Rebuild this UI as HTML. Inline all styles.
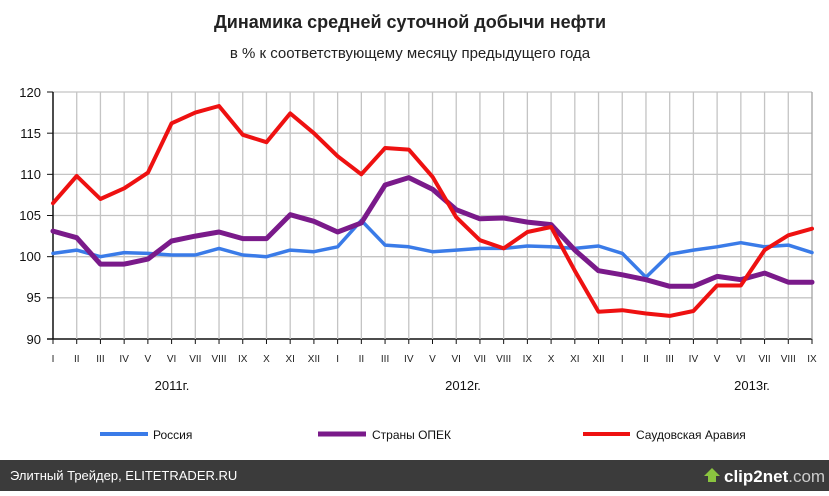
<!DOCTYPE html>
<html><head><meta charset="utf-8"><style>
body{margin:0;width:829px;height:491px;overflow:hidden;background:#fff;font-family:"Liberation Sans",sans-serif}
</style></head><body>
<svg id="s" width="829" height="491" xmlns="http://www.w3.org/2000/svg" font-family="Liberation Sans, sans-serif">
<text x="410" y="28" text-anchor="middle" font-size="18" font-weight="bold" fill="#222">Динамика средней суточной добычи нефти</text>
<text x="410" y="58" text-anchor="middle" font-size="15" fill="#222">в % к соответствующему месяцу предыдущего года</text>
<g id="grid"></g>
<g font-size="13" fill="#111" text-anchor="end">
<text x="41" y="97">120</text><text x="41" y="138">115</text><text x="41" y="179">110</text><text x="41" y="220">105</text><text x="41" y="261">100</text><text x="41" y="302">95</text><text x="41" y="344">90</text>
</g>
<g id="xl" font-size="10" fill="#222" text-anchor="middle"></g>
<g font-size="13" fill="#111" text-anchor="middle">
<text x="172" y="390">2011г.</text><text x="463" y="390">2012г.</text><text x="752" y="390">2013г.</text>
</g>
<g id="lines" fill="none" stroke-linejoin="round" stroke-linecap="round"></g>
<line x1="100" y1="434" x2="148" y2="434" stroke="#3a7be8" stroke-width="4"/>
<text x="153" y="439" font-size="12" fill="#111">Россия</text>
<line x1="318" y1="434" x2="366" y2="434" stroke="#7a1a8a" stroke-width="5"/>
<text x="372" y="439" font-size="12" fill="#111">Страны ОПЕК</text>
<line x1="583" y1="434" x2="630" y2="434" stroke="#ee1111" stroke-width="4"/>
<text x="636" y="439" font-size="12" fill="#111">Саудовская Аравия</text>
<rect x="0" y="460" width="829" height="31" fill="#3b3b3b"/>
<text x="10" y="480" font-size="13" fill="#fff">Элитный Трейдер, ELITETRADER.RU</text>
<polygon points="708,482 716,482 716,476 720,476 712,468 704,476 708,476" fill="#8ac43f"/>
<text x="724" y="482" font-size="17" font-weight="bold" fill="#fff">clip2net<tspan font-weight="normal" fill="#ccc">.com</tspan></text>
</svg>
<script>
var X0=53,DX=(812-53)/32;function Y(v){return 339-(v-90)*8.233;}
var g=document.getElementById('grid'),h='';
for(var v=90;v<=120;v+=5){var y=Y(v);h+='<line x1="'+(v==90?47:53)+'" y1="'+y+'" x2="812" y2="'+y+'" stroke="'+(v==90?'#111':'#c4c4c4')+'" stroke-width="'+(v==90?1.5:1.3)+'"/>';h+='<line x1="47" y1="'+y+'" x2="53" y2="'+y+'" stroke="#111"/>';}
for(var i=0;i<33;i++){var x=X0+i*DX;h+='<line x1="'+x+'" y1="92" x2="'+x+'" y2="339" stroke="'+(i==0?'#111':'#c4c4c4')+'" stroke-width="'+(i==0?1.5:1.3)+'"/>';h+='<line x1="'+x+'" y1="339" x2="'+x+'" y2="344" stroke="#111"/>';}
h+='<line x1="812" y1="92" x2="812" y2="339" stroke="#999"/>';
g.innerHTML=h;
var m=['I','II','III','IV','V','VI','VII','VIII','IX','X','XI','XII'],xl='';
for(var i=0;i<33;i++)xl+='<text x="'+(X0+i*DX)+'" y="362">'+m[i%12]+'</text>';
document.getElementById('xl').innerHTML=xl;
var red=[106.5,109.8,107,108.3,110.2,116.2,117.5,118.3,114.8,113.9,117.4,115,112.2,110,113.2,113,109.7,104.8,102,101,103,103.6,98.3,93.3,93.5,93.1,92.8,93.4,96.5,96.5,100.8,102.6,103.4];
var pur=[103.1,102.3,99.1,99.1,99.7,101.9,102.5,103,102.2,102.2,105.1,104.3,103,104.1,108.7,109.6,108.2,105.7,104.6,104.7,104.2,103.9,100.8,98.3,97.8,97.2,96.4,96.4,97.6,97.2,98,96.9,96.9];
var blu=[100.4,100.8,100,100.5,100.4,100.2,100.2,101,100.2,100,100.8,100.6,101.2,104.4,101.4,101.2,100.6,100.8,101,101,101.3,101.2,101,101.3,100.4,97.5,100.3,100.8,101.2,101.7,101.2,101.4,100.5];
function pl(d,c,w){var p=d.map(function(v,i){return (X0+i*DX).toFixed(1)+','+Y(v).toFixed(1)}).join(' ');return '<polyline points="'+p+'" stroke="'+c+'" stroke-width="'+w+'"/>';}
document.getElementById('lines').innerHTML=pl(blu,'#3a7be8',3.5)+pl(pur,'#7a1a8a',5)+pl(red,'#ee1111',4);
</script>
</body></html>
